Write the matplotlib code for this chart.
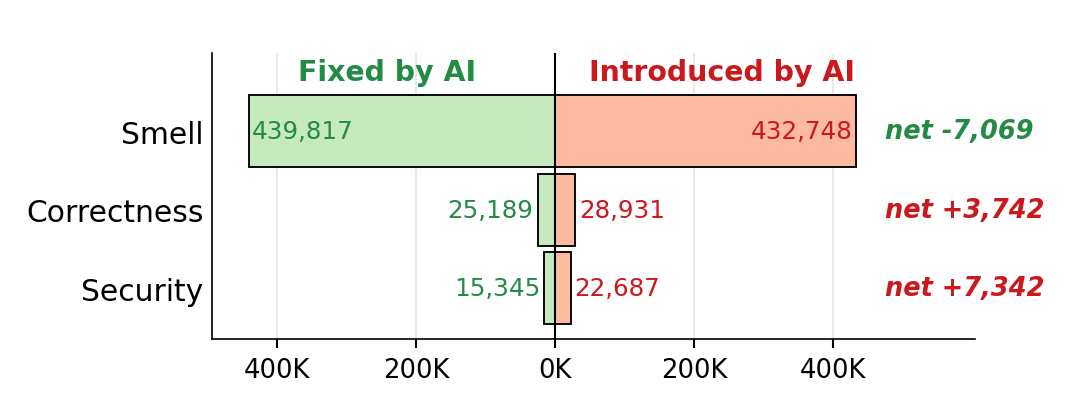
import numpy as np
import matplotlib
matplotlib.use("Agg")
import matplotlib.pyplot as plt

categories = ["Smell", "Correctness", "Security"]
fixed = [439817, 25189, 15345]
introduced = [432748, 28931, 22687]
tick_vals = [-400000, -200000, 0, 200000, 400000]
tick_labels = ["400K", "200K", "0K", "200K", "400K"]

green_fill = "#c7e9c0"
red_fill = "#fcbba1"
green_txt = "#238b45"
red_txt = "#cb181d"

fig = plt.figure(figsize=(7.2, 4.1 / 1.5), dpi=150)
ax = fig.add_axes([0.1963, 0.1707, 0.7065, 0.6976])

y = np.arange(len(categories))
ax.barh(y, [-v for v in fixed], height=0.92, color=green_fill, edgecolor="black", linewidth=0.9, zorder=2)
ax.barh(y, introduced, height=0.92, color=red_fill, edgecolor="black", linewidth=0.9, zorder=2)
ax.axvline(0, color="black", linewidth=1.0, zorder=3)

big = 100000
for i in range(len(categories)):
    f, n = fixed[i], introduced[i]
    if f > big:
        ax.annotate(f"{f:,}", (-f, i), xytext=(1.3, 0), textcoords="offset points",
                    ha="left", va="center", color=green_txt, fontsize=11.8, zorder=4)
    else:
        ax.annotate(f"{f:,}", (-f, i), xytext=(-2, 0), textcoords="offset points",
                    ha="right", va="center", color=green_txt, fontsize=11.8, zorder=4)
    if n > big:
        ax.annotate(f"{n:,}", (n, i), xytext=(-1.5, 0), textcoords="offset points",
                    ha="right", va="center", color=red_txt, fontsize=11.8, zorder=4)
    else:
        ax.annotate(f"{n:,}", (n, i), xytext=(1.8, 0), textcoords="offset points",
                    ha="left", va="center", color=red_txt, fontsize=11.8, zorder=4)
    net = n - f
    ax.text(max(fixed) * 1.08, i, f"net {net:+,}", ha="left", va="center",
            fontsize=12.3, fontweight="bold", fontstyle="italic",
            color=green_txt if net < 0 else red_txt)

ax.text(-242000, -0.76, "Fixed by AI", ha="center", va="center",
        fontsize=13.6, fontweight="bold", color=green_txt)
ax.text(240000, -0.76, "Introduced by AI", ha="center", va="center",
        fontsize=13.6, fontweight="bold", color=red_txt)

ax.set_xlim(-493500, 604000)
ax.set_ylim(2.65, -1.0)
ax.set_yticks(y)
ax.set_yticklabels(categories, fontsize=14.3)
ax.set_xticks(tick_vals)
ax.set_xticklabels(tick_labels, fontsize=12.4)
ax.tick_params(axis="y", length=0, pad=4)
ax.tick_params(axis="x", length=4.3, width=1.0, pad=4.5)
ax.grid(axis="x", color="#e5e5e5", linewidth=0.8, zorder=0)
ax.set_axisbelow(True)
for s in ["top", "right"]:
    ax.spines[s].set_visible(False)

fig.savefig("out.png", dpi=150)
